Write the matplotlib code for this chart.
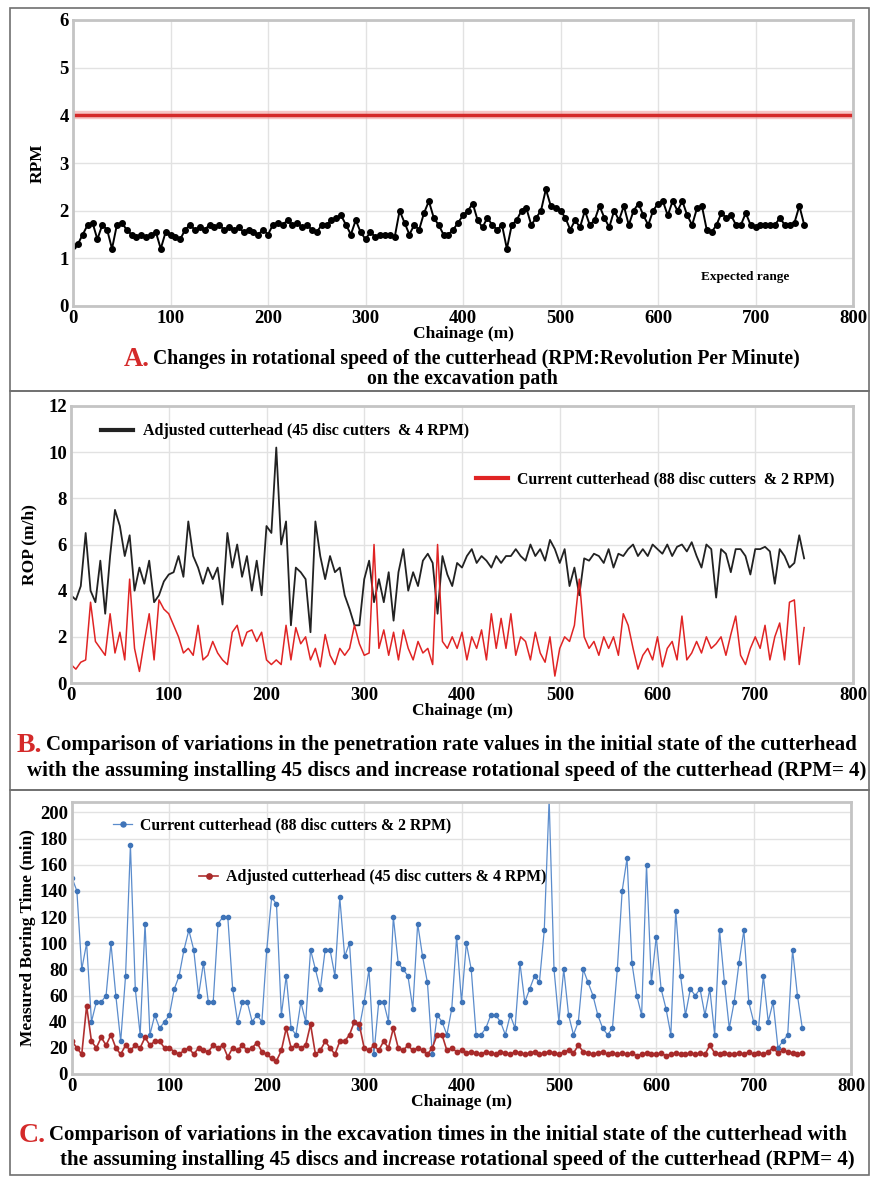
import numpy as np
import matplotlib
matplotlib.use("Agg")
import matplotlib.pyplot as plt
from matplotlib.patches import Rectangle

plt.rcParams['font.family'] = ['Liberation Serif', 'DejaVu Serif']
plt.rcParams['font.weight'] = 'bold'
plt.rcParams['axes.labelweight'] = 'bold'

# chainage step between readings (m)
step = 5

# A. cutterhead RPM along the path (0..750 m)
rpm = [1.25, 1.3, 1.5, 1.7, 1.75, 1.4, 1.7, 1.6, 1.2, 1.7,
       1.75, 1.6, 1.5, 1.45, 1.5, 1.45, 1.5, 1.55, 1.2, 1.55,
       1.5, 1.45, 1.4, 1.6, 1.7, 1.6, 1.65, 1.6, 1.7, 1.65,
       1.7, 1.6, 1.65, 1.6, 1.65, 1.55, 1.6, 1.55, 1.5, 1.6,
       1.5, 1.7, 1.75, 1.7, 1.8, 1.7, 1.75, 1.65, 1.7, 1.6,
       1.55, 1.7, 1.7, 1.8, 1.85, 1.9, 1.7, 1.5, 1.8, 1.55,
       1.4, 1.55, 1.45, 1.5, 1.5, 1.5, 1.45, 2.0, 1.75, 1.5,
       1.7, 1.6, 1.95, 2.2, 1.85, 1.7, 1.5, 1.5, 1.6, 1.75,
       1.9, 2.0, 2.15, 1.8, 1.65, 1.85, 1.7, 1.6, 1.7, 1.2,
       1.7, 1.8, 2.0, 2.05, 1.7, 1.85, 2.0, 2.45, 2.1, 2.05,
       2.0, 1.85, 1.6, 1.8, 1.65, 2.0, 1.7, 1.8, 2.1, 1.85,
       1.65, 2.0, 1.8, 2.1, 1.7, 2.0, 2.15, 1.9, 1.7, 2.0,
       2.15, 2.2, 1.9, 2.2, 2.0, 2.2, 1.9, 1.7, 2.05, 2.1,
       1.6, 1.55, 1.7, 1.95, 1.85, 1.9, 1.7, 1.7, 1.95, 1.7,
       1.65, 1.7, 1.7, 1.7, 1.7, 1.85, 1.7, 1.7, 1.75, 2.1,
       1.7]
rpm_expected = 4

# B. ROP (m/h)
rop_adjusted = [3.8, 3.6, 4.2, 6.5, 4.0, 3.5, 5.3, 3.0, 5.5, 7.5,
                6.8, 5.5, 6.4, 4.0, 5.0, 4.3, 5.3, 3.5, 3.8, 4.4,
                4.7, 4.8, 5.5, 4.6, 7.0, 5.5, 5.0, 4.3, 5.0, 4.5,
                5.0, 3.4, 6.5, 5.0, 6.0, 4.6, 5.5, 4.0, 5.3, 3.8,
                6.8, 6.5, 10.2, 6.0, 7.0, 2.5, 5.0, 4.8, 4.5, 2.2,
                7.0, 5.5, 4.5, 5.5, 4.8, 5.0, 3.8, 3.2, 2.5, 2.5,
                4.5, 5.3, 3.5, 4.5, 3.5, 4.8, 2.7, 4.8, 5.8, 4.0,
                4.8, 4.2, 5.3, 5.6, 5.2, 3.0, 5.5, 4.7, 4.2, 5.2,
                5.0, 5.5, 5.8, 5.2, 5.5, 5.3, 5.0, 5.5, 5.2, 5.5,
                5.5, 5.8, 5.5, 5.3, 6.0, 5.5, 5.8, 5.3, 6.2, 5.8,
                5.2, 5.8, 4.2, 5.0, 3.8, 5.4, 5.3, 5.6, 5.5, 5.2,
                5.8, 5.0, 5.6, 5.5, 5.8, 6.0, 5.5, 5.8, 5.5, 6.0,
                5.8, 5.6, 6.0, 5.5, 5.9, 6.0, 5.7, 6.1, 5.5, 5.0,
                6.0, 5.8, 3.7, 5.8, 5.6, 4.8, 5.8, 5.8, 5.5, 4.7,
                5.8, 5.8, 5.9, 5.7, 4.3, 5.8, 5.5, 5.0, 5.2, 6.4,
                5.4]
rop_current = [0.8, 0.6, 0.9, 1.0, 3.5, 1.8, 1.5, 1.2, 3.0, 1.3,
               2.2, 1.0, 4.5, 1.5, 0.5, 1.8, 3.0, 1.0, 3.6, 3.2,
               3.0, 2.5, 2.0, 1.3, 1.5, 1.2, 2.5, 1.0, 1.2, 1.8,
               1.3, 1.0, 0.8, 2.2, 2.5, 1.6, 2.2, 2.3, 1.8, 2.2,
               1.0, 0.8, 1.0, 0.8, 2.5, 1.0, 2.4, 1.7, 2.0, 1.0,
               1.5, 0.7, 2.1, 1.2, 0.8, 1.5, 1.2, 1.5, 2.5, 1.7,
               1.2, 1.3, 6.0, 1.5, 2.3, 1.2, 2.2, 1.0, 2.3, 1.5,
               1.0, 1.8, 1.3, 1.5, 0.8, 6.0, 1.8, 1.5, 2.0, 1.5,
               2.2, 1.0, 2.0, 1.5, 2.3, 1.0, 3.0, 1.5, 2.8, 1.5,
               3.0, 1.2, 2.0, 1.8, 1.0, 2.2, 1.3, 0.9, 2.0, 0.3,
               1.5, 2.0, 1.8, 2.5, 4.5, 2.0, 1.5, 1.8, 1.2, 2.0,
               1.5, 2.0, 1.2, 3.0, 2.5, 1.5, 0.6, 1.2, 1.5, 1.0,
               2.0, 0.7, 1.5, 1.8, 1.0, 2.9, 1.0, 1.3, 1.8, 1.3,
               2.0, 1.5, 1.7, 2.0, 1.2, 2.1, 2.9, 1.2, 0.8, 1.5,
               2.0, 1.5, 2.5, 1.0, 2.0, 2.6, 1.0, 3.5, 3.6, 0.8,
               2.4]

# C. measured boring time (min)
time_current = [150, 140, 80, 100, 40, 55, 55, 60, 100, 60,
                25, 75, 175, 65, 30, 115, 30, 45, 35, 40,
                45, 65, 75, 95, 110, 95, 60, 85, 55, 55,
                115, 120, 120, 65, 40, 55, 55, 40, 45, 40,
                95, 135, 130, 45, 75, 35, 30, 55, 40, 95,
                80, 65, 95, 95, 75, 135, 90, 100, 40, 35,
                55, 80, 15, 55, 55, 40, 120, 85, 80, 75,
                50, 115, 90, 70, 15, 45, 40, 30, 50, 105,
                55, 100, 80, 30, 30, 35, 45, 45, 40, 30,
                45, 35, 85, 55, 65, 75, 70, 110, 210, 80,
                40, 80, 45, 30, 40, 80, 70, 60, 45, 35,
                30, 35, 80, 140, 165, 85, 60, 45, 160, 70,
                105, 65, 50, 30, 125, 75, 45, 65, 60, 65,
                45, 65, 30, 110, 70, 35, 55, 85, 110, 55,
                40, 35, 75, 40, 55, 20, 25, 30, 95, 60,
                35]
time_adjusted = [25, 20, 15, 52, 25, 20, 28, 22, 30, 20,
                 15, 22, 18, 22, 20, 28, 22, 25, 25, 20,
                 20, 17, 15, 18, 20, 15, 20, 18, 17, 22,
                 20, 22, 13, 20, 18, 22, 18, 20, 24, 17,
                 15, 12, 10, 18, 35, 20, 22, 20, 22, 38,
                 15, 18, 25, 20, 15, 25, 25, 30, 40, 38,
                 20, 18, 22, 18, 25, 20, 35, 20, 18, 22,
                 18, 20, 18, 15, 20, 30, 30, 18, 20, 17,
                 18, 16, 17, 16, 15, 17, 16, 15, 17, 16,
                 15, 17, 16, 15, 16, 17, 15, 16, 17, 16,
                 15, 17, 18, 16, 22, 17, 16, 15, 16, 17,
                 15, 16, 15, 16, 15, 16, 14, 15, 16, 15,
                 15, 16, 14, 15, 16, 15, 15, 16, 15, 16,
                 15, 22, 16, 15, 16, 15, 15, 16, 15, 17,
                 15, 16, 15, 17, 20, 16, 18, 17, 16, 15,
                 16]

x_ticks = [0, 100, 200, 300, 400, 500, 600, 700, 800]

W, H = 872, 1177
RED = '#d42a2a'


def rect(left, top, right, bottom):
    # pixel box -> figure fraction
    return [left / W, 1 - bottom / H, (right - left) / W, (bottom - top) / H]


def style(ax, ylim, yticks, ylabel, ysize=12.5):
    ax.set_xlim(0, 800)
    ax.set_ylim(*ylim)
    ax.set_xticks(x_ticks)
    ax.set_yticks(yticks)
    ax.grid(True, color='#e2e2e2', lw=1)
    ax.set_axisbelow(True)
    for s in ax.spines.values():
        s.set_color('#c4c4c4')
        s.set_linewidth(2)
    ax.tick_params(length=0, labelsize=13.5, pad=3)
    ax.set_xlabel('Chainage (m)', fontsize=12.5, labelpad=-1)
    ax.set_ylabel(ylabel, fontsize=ysize)


fig = plt.figure(figsize=(W / 100, H / 100), dpi=100)

# panel frames
for top, bottom in [(8, 391), (391, 790), (790, 1175)]:
    fig.add_artist(Rectangle((10 / W, 1 - bottom / H), 859 / W, (bottom - top) / H,
                             transform=fig.transFigure, fill=False, ec='#707070', lw=1.2))

# ---- A
ax = fig.add_axes(rect(73, 20, 853, 306))
xa = np.arange(len(rpm)) * step
ax.axhline(rpm_expected, color='#f0a0a0', lw=6, alpha=0.6)
ax.axhline(rpm_expected, color=RED, lw=2.5)
ax.plot(xa, rpm, color='black', lw=1.4, marker='o', ms=4)
ax.text(689, 0.6, 'Expected range', fontsize=9.5, ha='center', va='center')
style(ax, (0, 6), range(0, 7), 'RPM')
ax.yaxis.labelpad = 10

# ---- B
ax = fig.add_axes(rect(71, 406, 853, 683))
xb = np.arange(len(rop_adjusted)) * step
l1, = ax.plot(xb, rop_adjusted, color='#222222', lw=1.3)
l2, = ax.plot(xb, rop_current, color='#e02424', lw=1.1)
style(ax, (0, 12), range(0, 13, 2), 'ROP (m/h)')
ax.yaxis.labelpad = 8
leg1 = ax.legend([l1], ['Adjusted cutterhead (45 disc cutters  & 4 RPM)'], loc='upper left',
                 bbox_to_anchor=(0.02, 0.99), frameon=False, fontsize=11.5,
                 handlelength=2.0, handletextpad=0.6)
for h in leg1.get_lines():
    h.set_linewidth(3)
ax.add_artist(leg1)
leg2 = ax.legend([l2], ['Current cutterhead (88 disc cutters  & 2 RPM)'], loc='upper left',
                 bbox_to_anchor=(0.5, 0.815), frameon=False, fontsize=11.4,
                 handlelength=2.0, handletextpad=0.6)
for h in leg2.get_lines():
    h.set_linewidth(3)

# ---- C
ax = fig.add_axes(rect(72, 802, 851, 1074))
xc = np.arange(len(time_current)) * step
c1, = ax.plot(xc, time_current, color='#5b8ccc', lw=0.9, marker='o', ms=3,
              mfc='#3f74b8', mec='#3f74b8')
c2, = ax.plot(xc, time_adjusted, color='#b03030', lw=1.2, marker='o', ms=3.2,
              mfc='#a82a2a', mec='#a82a2a')
style(ax, (0, 208), range(0, 201, 20), 'Measured Boring Time (min)', ysize=12.5)
ax.yaxis.labelpad = 3
leg3 = ax.legend([c1], ['Current cutterhead (88 disc cutters & 2 RPM)'], loc='upper left',
                 bbox_to_anchor=(0.035, 0.995), frameon=False, fontsize=11.3,
                 handlelength=1.2, handletextpad=0.5, markerscale=1.2)
ax.add_artist(leg3)
leg4 = ax.legend([c2], ['Adjusted cutterhead (45 disc cutters & 4 RPM)'], loc='upper left',
                 bbox_to_anchor=(0.145, 0.805), frameon=False, fontsize=11.4,
                 handlelength=1.2, handletextpad=0.5, markerscale=1.2)

# ---- captions (red letter followed by black text)
fig.canvas.draw()
renderer = fig.canvas.get_renderer()


def caption(letter, x_px, y_px, text, size):
    t = fig.text(x_px / W, 1 - y_px / H, letter, color=RED, fontsize=size + 5,
                 ha='left', va='center')
    bb = t.get_window_extent(renderer)
    fig.text((bb.x1 + 3) / W, 1 - y_px / H, text, fontsize=size, ha='left', va='center')


caption('A.', 124, 359, 'Changes in rotational speed of the cutterhead (RPM:Revolution Per Minute)', 14.2)
fig.text(462 / W, 1 - 379 / H, 'on the excavation path', fontsize=14.2, ha='center', va='center')

caption('B.', 17, 745, 'Comparison of variations in the penetration rate values in the initial state of the cutterhead',
        15)
fig.text(447 / W, 1 - 771 / H,
         'with the assuming installing 45 discs and increase rotational speed of the cutterhead (RPM= 4)',
         fontsize=15, ha='center', va='center')

caption('C.', 19, 1135, 'Comparison of variations in the excavation times in the initial state of the cutterhead with',
        15)
fig.text(457 / W, 1 - 1160 / H,
         'the assuming installing 45 discs and increase rotational speed of the cutterhead (RPM= 4)',
         fontsize=15, ha='center', va='center')

fig.savefig('out.png', dpi=100)
